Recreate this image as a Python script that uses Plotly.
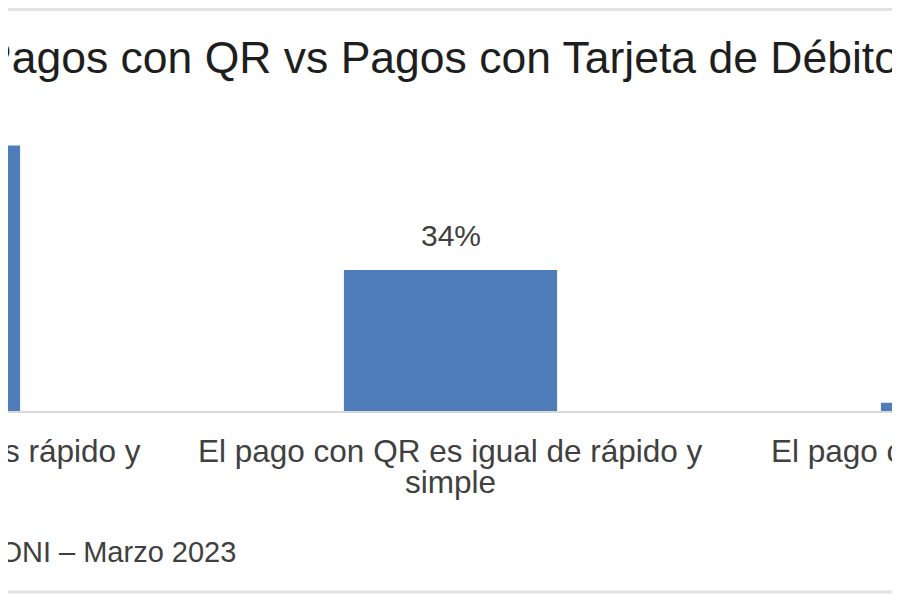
import plotly.graph_objects as go

# datos de la encuesta (porcentaje de respuestas)
categorias = ["El pago con QR es más rápido y simple",
              "El pago con QR es igual de rápido y simple",
              "El pago con QR es más lento y complicado"]
etiqueta_l1 = ["El pago con QR es más rápido y",
               "El pago con QR es igual de rápido y",
               "El pago con QR es más lento y"]
etiqueta_l2 = ["simple", "simple", "complicado"]
valores = [64, 34, 2]

titulo = "Pagos con QR vs Pagos con Tarjeta de Débito"
fuente = "Fuente: ONI – Marzo 2023"

# la pagina deja 8px de margen, todo se corre 8px
off = 8
# rango del eje x (la imagen es un recorte del grafico)
x0 = 1 - (450.5 - off) / 537
x1 = x0 + 900 / 537
# alto del area de dibujo en px y base del eje (px de la figura)
alto = 332
base = 411 - off


def py(p):
    # px de la imagen -> coordenada papel
    return (base - (p - off)) / alto


def pxp(p):
    return (p - off) / 900


def cat_x(i):
    return (i - x0) / (x1 - x0)


fig = go.Figure()
fig.add_trace(go.Bar(
    x=list(range(len(categorias))),
    y=valores,
    marker=dict(color="#4f7dba", line=dict(width=0)),
    hovertext=categorias,
))

anots = []
for i, v in enumerate(valores):
    anots.append(dict(x=i, y=v, xref="x", yref="y", text=f"{v}%",
                      showarrow=False, yanchor="bottom", yshift=16,
                      font=dict(size=30, color="#404040")))
for i in range(len(categorias)):
    anots.append(dict(x=cat_x(i), y=py(451), xref="paper", yref="paper",
                      text=etiqueta_l1[i], showarrow=False,
                      xanchor="center", yanchor="middle",
                      font=dict(size=31.5, color="#404040")))
    anots.append(dict(x=cat_x(i), y=py(482), xref="paper", yref="paper",
                      text=etiqueta_l2[i], showarrow=False,
                      xanchor="center", yanchor="middle",
                      font=dict(size=31.5, color="#404040")))

anots.append(dict(x=pxp(440), y=py(57), xref="paper", yref="paper",
                  text=titulo, showarrow=False, xanchor="center", yanchor="middle",
                  font=dict(size=44.5, color="#1e1e1e")))
anots.append(dict(x=pxp(238), y=py(552), xref="paper", yref="paper",
                  text=fuente, showarrow=False, xanchor="right", yanchor="middle",
                  font=dict(size=29, color="#404040")))

fig.update_layout(
    width=900, height=600,
    margin=dict(l=0, r=0, t=base - alto, b=600 - base),
    paper_bgcolor="white", plot_bgcolor="white",
    font=dict(family="Liberation Sans, Arial, sans-serif"),
    bargap=0.603,
    showlegend=False,
    annotations=anots,
    xaxis=dict(range=[x0, x1], showticklabels=False, showgrid=False,
               zeroline=False, showline=True, linecolor="#d9d9d9", linewidth=2),
    yaxis=dict(range=[0, 80], visible=False),
    shapes=[
        dict(type="line", xref="paper", yref="paper", x0=-0.01, x1=1.01,
             y0=py(9.5), y1=py(9.5), line=dict(color="#e3e3e3", width=3)),
        dict(type="line", xref="paper", yref="paper", x0=-0.01, x1=1.01,
             y0=py(592), y1=py(592), line=dict(color="#e0e0e0", width=3)),
    ],
)

fig.write_html("out.html")
